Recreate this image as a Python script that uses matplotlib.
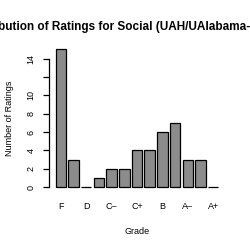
import matplotlib
matplotlib.use("Agg")
import matplotlib.pyplot as plt
import numpy as np

# Daten
grades = ["F", "D-", "D", "D+", "C-", "C", "C+", "B-", "B", "B+", "A-", "A", "A+"]
counts = [15, 3, 0, 1, 2, 2, 4, 4, 6, 7, 3, 3, 0]
shown_labels = ["F", "", "D", "", "C\u2013", "", "C+", "", "B", "", "A\u2013", "", "A+"]
y_ticks = [0, 2, 4, 6, 8, 10, 12, 14]
y_tick_labels = ["0", "2", "4", "6", "8", "10", "", "14"]

title = "Distribution of Ratings for Social (UAH/UAlabama-Huntsville)"

plt.rcParams["font.family"] = ["Liberation Sans", "DejaVu Sans"]

fig = plt.figure(figsize=(2.5, 2.5), dpi=100)
ax = fig.add_axes([0.196, 0.23, 0.704, 0.594])

# R-artige Positionen: Breite 1, Abstand 0.2
pos = 0.7 + 1.2 * np.arange(len(grades))
ax.bar(pos, counts, width=1.0, color="#8c8c8c", edgecolor="black", linewidth=0.9)

ax.set_xlim(-0.416, 16.216)
ax.set_ylim(-0.6, 15.6)

ax.set_xticks(pos)
ax.set_xticklabels(shown_labels, fontsize=6.5)
ax.tick_params(axis="x", length=0, pad=6.5)

ax.set_yticks(y_ticks)
ax.set_yticklabels(y_tick_labels, rotation=90, va="center", fontsize=6.5)
ax.tick_params(axis="y", length=4.5, width=0.9, pad=5)

for s in ["top", "right", "bottom"]:
    ax.spines[s].set_visible(False)
ax.spines["left"].set_bounds(0, 14)
ax.spines["left"].set_linewidth(0.9)

ax.set_xlabel("Grade", fontsize=6.5, labelpad=12)
ax.set_ylabel("Number of Ratings", fontsize=6.5, labelpad=9)

fig.text(139 / 250, 1 - 27 / 250, title, ha="center", va="center",
         fontsize=8.5, fontweight="bold")

fig.savefig("out.png", dpi=100)
